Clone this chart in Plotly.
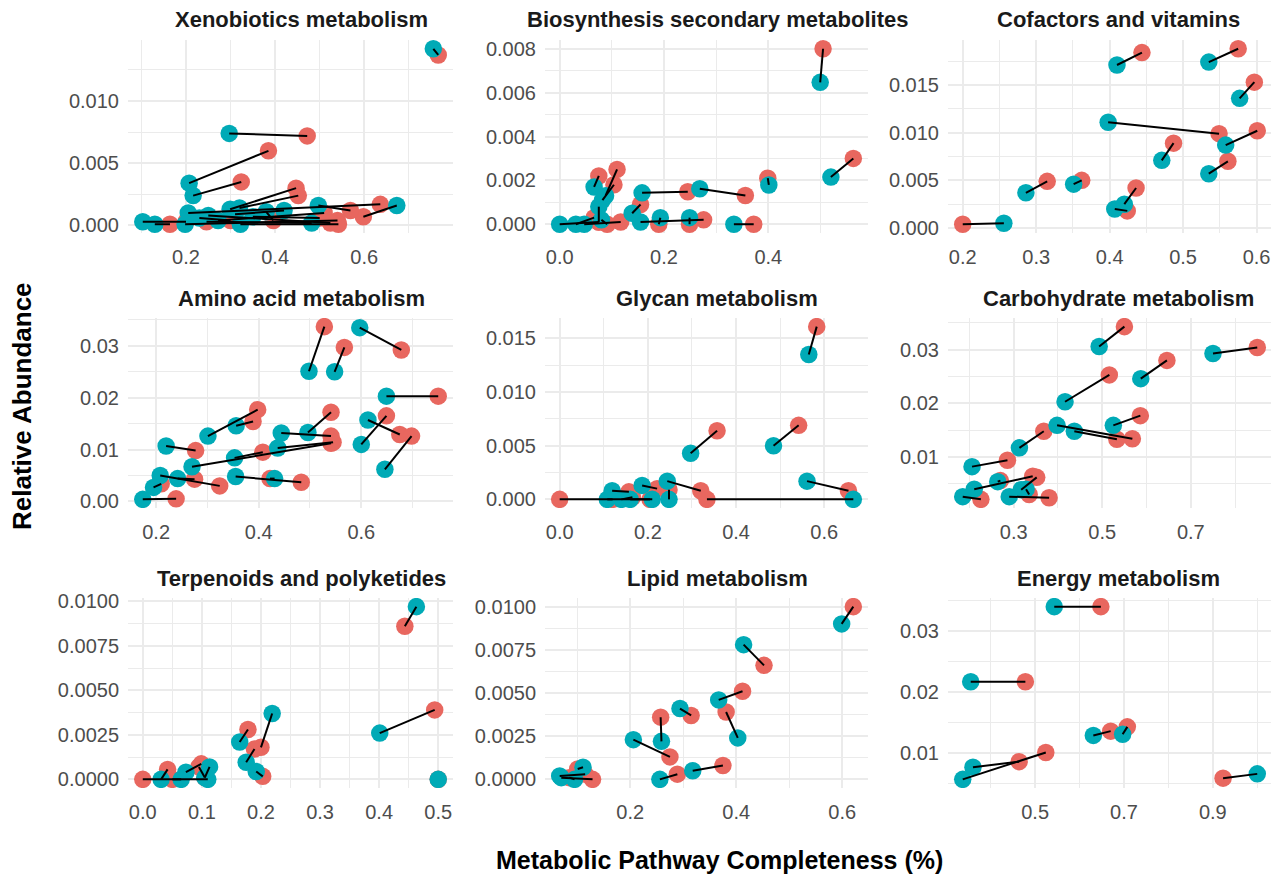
import plotly.graph_objects as go

RED = "#E8675F"
TEAL = "#00AAB6"

panel_titles = [
    "Xenobiotics metabolism", "Biosynthesis secondary metabolites", "Cofactors and vitamins",
    "Amino acid metabolism", "Glycan metabolism", "Carbohydrate metabolism",
    "Terpenoids and polyketides", "Lipid metabolism", "Energy metabolism",
]

# ---- Xenobiotics metabolism ----
xeno_teal_x = [0.755, 0.297, 0.207, 0.216, 0.299, 0.320, 0.673, 0.205, 0.497, 0.103, 0.130, 0.198, 0.272, 0.322, 0.482, 0.250, 0.380, 0.350, 0.230, 0.420]
xeno_teal_y = [0.0142, 0.0074, 0.0034, 0.0024, 0.0013, 0.0014, 0.0016, 0.0010, 0.0016, 0.0003, 0.0001, 0.0001, 0.0004, 0.0001, 0.0002, 0.0008, 0.0011, 0.0007, 0.0006, 0.0012]
xeno_red_x = [0.766, 0.472, 0.385, 0.324, 0.447, 0.452, 0.598, 0.636, 0.569, 0.200, 0.164, 0.540, 0.510, 0.542, 0.246, 0.524, 0.396, 0.500, 0.300, 0.310]
xeno_red_y = [0.0137, 0.0072, 0.0060, 0.0035, 0.0030, 0.0024, 0.0007, 0.0017, 0.0012, 0.0003, 0.0001, 0.0004, 0.0010, 0.0001, 0.0003, 0.0002, 0.0004, 0.0006, 0.0004, 0.0009]

# ---- Biosynthesis secondary metabolites ----
bios_teal_x = [0.4995, 0.520, 0.401, 0.2686, 0.158, 0.334, 0.155, 0.193, 0.249, 0.139, 0.066, 0.088, 0.082, 0.0, 0.031, 0.075, 0.047, 0.080]
bios_teal_y = [0.00647, 0.00215, 0.00179, 0.00162, 0.00143, 0.0, 0.0001, 0.0003, 0.0003, 0.0005, 0.0017, 0.0013, 0.0011, 0.0, 0.0, 0.0008, 0.0, 0.0002]
bios_red_x = [0.505, 0.563, 0.399, 0.356, 0.2456, 0.372, 0.276, 0.190, 0.249, 0.155, 0.075, 0.110, 0.104, 0.075, 0.066, 0.075, 0.117, 0.091]
bios_red_y = [0.0080, 0.0030, 0.0021, 0.00131, 0.00148, 0.0, 0.0002, 0.0, 0.0, 0.0009, 0.0022, 0.0025, 0.0018, 0.0001, 0.0003, 0.0001, 0.0001, 0.0]

# ---- Cofactors and vitamins ----
cofa_teal_x = [0.256, 0.286, 0.351, 0.407, 0.420, 0.471, 0.398, 0.558, 0.535, 0.577, 0.535, 0.410]
cofa_teal_y = [0.0005, 0.0037, 0.0046, 0.0020, 0.0025, 0.0071, 0.0111, 0.0087, 0.0057, 0.0136, 0.0174, 0.0171]
cofa_red_x = [0.200, 0.315, 0.362, 0.424, 0.436, 0.487, 0.549, 0.601, 0.561, 0.597, 0.575, 0.444]
cofa_red_y = [0.0004, 0.0049, 0.0050, 0.0018, 0.0042, 0.0089, 0.0099, 0.0102, 0.0070, 0.0153, 0.0188, 0.0184]

# ---- Amino acid metabolism ----
amin_teal_x = [0.498, 0.548, 0.597, 0.649, 0.496, 0.613, 0.646, 0.600, 0.444, 0.270, 0.437, 0.301, 0.356, 0.353, 0.355, 0.431, 0.2195, 0.208, 0.242, 0.195, 0.174]
amin_teal_y = [0.0251, 0.0250, 0.0335, 0.0203, 0.0133, 0.0157, 0.0062, 0.0110, 0.0132, 0.0067, 0.0103, 0.0126, 0.0146, 0.0084, 0.0048, 0.0044, 0.0107, 0.0050, 0.0044, 0.0027, 0.0004]
amin_red_x = [0.528, 0.567, 0.678, 0.750, 0.541, 0.675, 0.698, 0.649, 0.541, 0.541, 0.545, 0.398, 0.389, 0.408, 0.483, 0.422, 0.277, 0.324, 0.275, 0.210, 0.239]
amin_red_y = [0.0337, 0.0297, 0.0292, 0.0203, 0.0172, 0.0129, 0.0126, 0.0165, 0.0126, 0.0112, 0.0114, 0.0177, 0.0154, 0.0095, 0.0037, 0.0044, 0.0098, 0.0030, 0.0043, 0.0034, 0.0005]

# ---- Glycan metabolism ----
glyc_teal_x = [0.565, 0.485, 0.297, 0.561, 0.210, 0.666, 0.244, 0.248, 0.187, 0.119, 0.108, 0.140, 0.160]
glyc_teal_y = [0.0135, 0.0050, 0.0043, 0.0017, 0.0, 0.0, 0.0017, 0.0, 0.0013, 0.0008, 0.0, 0.0, 0.0]
glyc_red_x = [0.583, 0.542, 0.357, 0.655, 0.0, 0.334, 0.320, 0.248, 0.221, 0.157, 0.120, 0.165, 0.205]
glyc_red_y = [0.0161, 0.0069, 0.0064, 0.0008, 0.0, 0.0, 0.0008, 0.0009, 0.0010, 0.0007, 0.0, 0.0002, 0.0]

# ---- Carbohydrate metabolism ----
carb_teal_x = [0.493, 0.750, 0.587, 0.416, 0.525, 0.398, 0.437, 0.313, 0.206, 0.211, 0.317, 0.264, 0.185, 0.290, 0.328]
carb_teal_y = [0.0306, 0.0293, 0.0246, 0.0203, 0.0159, 0.0159, 0.0148, 0.0117, 0.0082, 0.0040, 0.0039, 0.0054, 0.0026, 0.0026, 0.0040]
carb_red_x = [0.550, 0.850, 0.646, 0.516, 0.586, 0.568, 0.533, 0.368, 0.286, 0.343, 0.352, 0.270, 0.226, 0.380, 0.335]
carb_red_y = [0.0343, 0.0304, 0.0280, 0.0253, 0.0177, 0.0134, 0.0133, 0.0148, 0.0094, 0.0064, 0.0062, 0.0056, 0.0021, 0.0024, 0.0030]

# ---- Terpenoids and polyketides ----
terp_teal_x = [0.463, 0.401, 0.500, 0.219, 0.164, 0.175, 0.192, 0.110, 0.031, 0.073, 0.113, 0.065, 0.105]
terp_teal_y = [0.0097, 0.0026, 0.0, 0.0037, 0.0021, 0.00096, 0.00044, 0.0, 0.0, 0.0004, 0.0007, 0.0, 0.0001]
terp_red_x = [0.4435, 0.494, 0.500, 0.200, 0.178, 0.189, 0.203, 0.0, 0.042, 0.099, 0.105, 0.050, 0.095]
terp_red_y = [0.0086, 0.0039, 0.0, 0.0018, 0.0028, 0.0017, 0.00017, 0.0, 0.00056, 0.00087, 0.0001, 0.0, 0.0007]

# ---- Lipid metabolism ----
lipi_teal_x = [0.599, 0.414, 0.367, 0.403, 0.294, 0.259, 0.206, 0.256, 0.318, 0.067, 0.070, 0.111, 0.095]
lipi_teal_y = [0.0090, 0.0078, 0.0046, 0.0024, 0.0041, 0.0022, 0.0023, 0.0, 0.0005, 0.0002, 0.0001, 0.0007, 0.0]
lipi_red_x = [0.621, 0.4525, 0.412, 0.381, 0.315, 0.2575, 0.275, 0.289, 0.375, 0.115, 0.129, 0.101, 0.085]
lipi_red_y = [0.0100, 0.0066, 0.0051, 0.0039, 0.0037, 0.0036, 0.0013, 0.0003, 0.0008, 0.0003, 0.0, 0.0006, 0.0001]

# ---- Energy metabolism ----
ener_teal_x = [0.543, 0.355, 0.337, 0.360, 0.631, 0.697, 1.000]
ener_teal_y = [0.0340, 0.0217, 0.0057, 0.0077, 0.0129, 0.0131, 0.0066]
ener_red_x = [0.648, 0.478, 0.524, 0.464, 0.670, 0.7075, 0.923]
ener_red_y = [0.0340, 0.0217, 0.0101, 0.0086, 0.0136, 0.0143, 0.0059]

panel_data = [
    (xeno_teal_x, xeno_teal_y, xeno_red_x, xeno_red_y),
    (bios_teal_x, bios_teal_y, bios_red_x, bios_red_y),
    (cofa_teal_x, cofa_teal_y, cofa_red_x, cofa_red_y),
    (amin_teal_x, amin_teal_y, amin_red_x, amin_red_y),
    (glyc_teal_x, glyc_teal_y, glyc_red_x, glyc_red_y),
    (carb_teal_x, carb_teal_y, carb_red_x, carb_red_y),
    (terp_teal_x, terp_teal_y, terp_red_x, terp_red_y),
    (lipi_teal_x, lipi_teal_y, lipi_red_x, lipi_red_y),
    (ener_teal_x, ener_teal_y, ener_red_x, ener_red_y),
]

# tick settings: (x tick0, x dtick, x format, y tick0, y dtick, y format)
tick_cfg = [
    (0.0, 0.2, ".1f", 0.0, 0.005, ".3f"),
    (0.0, 0.2, ".1f", 0.0, 0.002, ".3f"),
    (0.0, 0.1, ".1f", 0.0, 0.005, ".3f"),
    (0.0, 0.2, ".1f", 0.0, 0.01, ".2f"),
    (0.0, 0.2, ".1f", 0.0, 0.005, ".3f"),
    (0.1, 0.2, ".1f", 0.0, 0.01, ".2f"),
    (0.0, 0.1, ".1f", 0.0, 0.0025, ".4f"),
    (0.0, 0.2, ".1f", 0.0, 0.0025, ".4f"),
    (0.1, 0.2, ".1f", 0.0, 0.01, ".2f"),
]

W, H = 1279, 878
OFF = 8  # page body margin: the figure is drawn 8 px right and down in the window
col_px = [(128, 453), (545, 868), (948, 1272)]
row_px = [(40, 233), (318, 508), (598, 788)]
title_cx = [301, 717, 1118]
title_cy = [19, 299, 578]


def px_x(p):
    return (p - OFF) / W


def px_y(p):
    return 1 - (p - OFF) / H


FONT = "Liberation Sans, Arial, Helvetica, sans-serif"
GRID = "#EBEBEB"

fig = go.Figure()
layout = dict(
    width=W, height=H, autosize=False,
    margin=dict(l=0, r=0, t=0, b=0, pad=0, autoexpand=False),
    paper_bgcolor="white", plot_bgcolor="white",
    showlegend=False, annotations=[],
)


def expand(vals):
    lo, hi = min(vals), max(vals)
    r = hi - lo
    return [lo - 0.05 * r, hi + 0.05 * r]


for i, (tx, ty, rx, ry) in enumerate(panel_data):
    n = "" if i == 0 else str(i + 1)
    xa, ya = "x" + n, "y" + n
    row, col = divmod(i, 3)
    fig.add_trace(go.Scatter(x=rx, y=ry, mode="markers", xaxis=xa, yaxis=ya,
                             marker=dict(color=RED, size=17.5, line=dict(width=0)),
                             name="Group 1", hoverinfo="x+y"))
    fig.add_trace(go.Scatter(x=tx, y=ty, mode="markers", xaxis=xa, yaxis=ya,
                             marker=dict(color=TEAL, size=17.5, line=dict(width=0)),
                             name="Group 2", hoverinfo="x+y"))
    lx, ly = [], []
    for a, b, c, d in zip(tx, ty, rx, ry):
        lx += [a, c, None]
        ly += [b, d, None]
    fig.add_trace(go.Scatter(x=lx, y=ly, mode="lines", xaxis=xa, yaxis=ya,
                             line=dict(color="black", width=2), hoverinfo="skip"))

    x0c, dxc, xf, y0c, dyc, yf = tick_cfg[i]
    cl, cr = col_px[col]
    rt, rb = row_px[row]
    axis_common = dict(
        showgrid=True, gridcolor=GRID, gridwidth=1.6, automargin=False,
        zeroline=False, showline=False, ticks="",
        tickfont=dict(family=FONT, size=20, color="#4D4D4D"),
    )
    layout["xaxis" + n] = dict(
        domain=[px_x(cl), px_x(cr)], anchor=ya, range=expand(tx + rx),
        tick0=x0c, dtick=dxc, tickformat=xf, ticklabelstandoff=10,
        minor=dict(tick0=0, dtick=dxc / 2, showgrid=True, gridcolor=GRID, gridwidth=0.9),
        **axis_common,
    )
    layout["yaxis" + n] = dict(
        domain=[px_y(rb), px_y(rt)], anchor=xa, range=expand(ty + ry),
        tick0=y0c, dtick=dyc, tickformat=yf, ticklabelstandoff=8,
        minor=dict(tick0=0, dtick=dyc / 2, showgrid=True, gridcolor=GRID, gridwidth=0.9),
        **axis_common,
    )
    layout["annotations"].append(dict(
        text="<b>%s</b>" % panel_titles[i], xref="paper", yref="paper",
        x=px_x(title_cx[col]), y=px_y(title_cy[row]), xanchor="center", yanchor="middle",
        showarrow=False, font=dict(family=FONT, size=22, color="#1A1A1A"),
    ))

layout["annotations"].append(dict(
    text="<b>Relative Abundance</b>", xref="paper", yref="paper",
    x=px_x(22), y=px_y(406), xanchor="center", yanchor="middle", textangle=-90,
    showarrow=False, font=dict(family=FONT, size=26, color="black"),
))
layout["annotations"].append(dict(
    text="<b>Metabolic Pathway Completeness (%)</b>", xref="paper", yref="paper",
    x=px_x(719), y=px_y(860), xanchor="center", yanchor="middle",
    showarrow=False, font=dict(family=FONT, size=25, color="black"),
))

fig.update_layout(**layout)
fig.write_html("out.html")
